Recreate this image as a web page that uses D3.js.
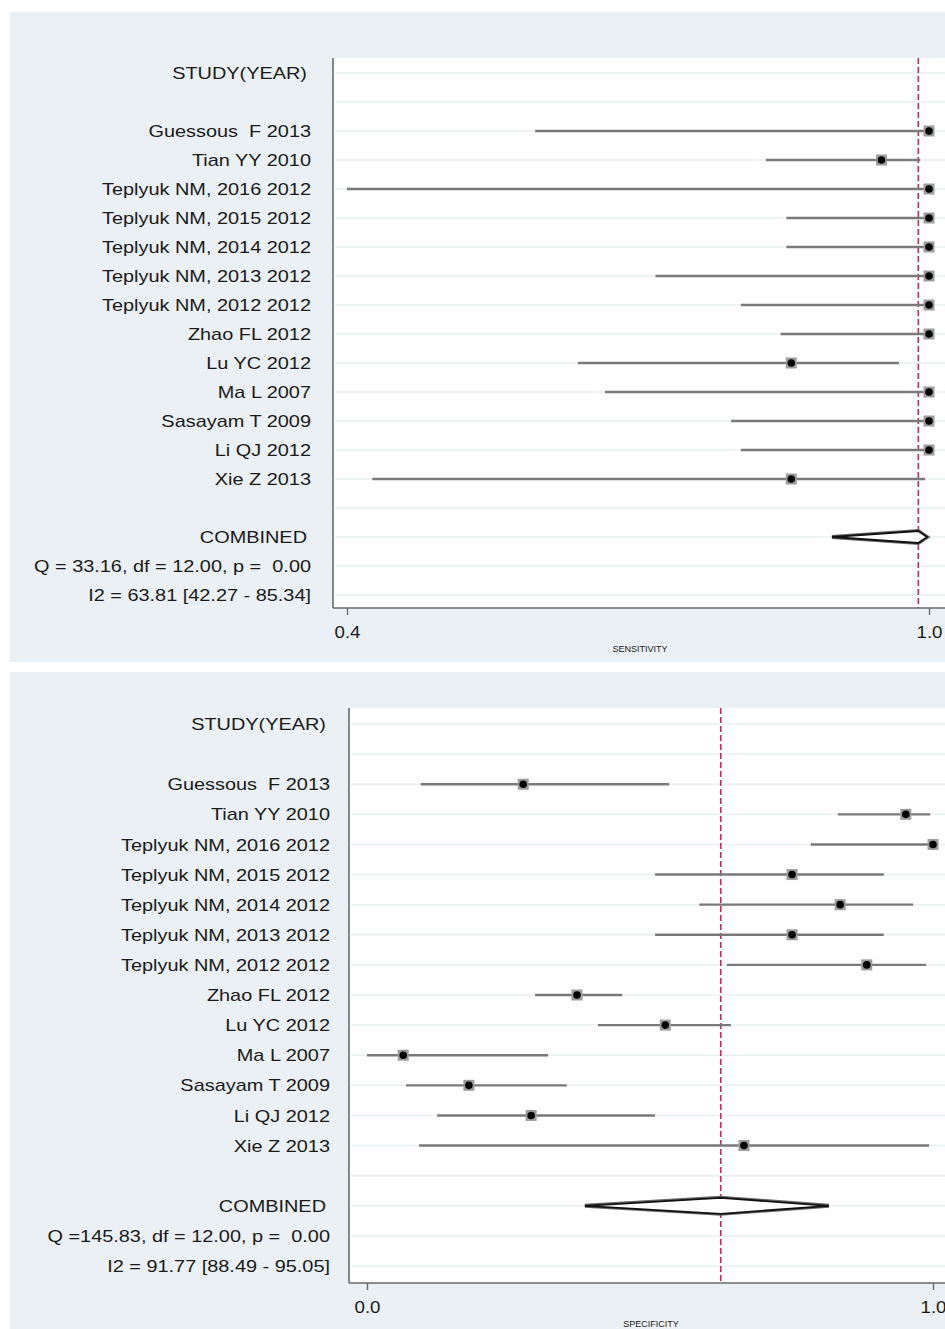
<!DOCTYPE html>
<html>
<head>
<meta charset="utf-8">
<script src="https://cdn.jsdelivr.net/npm/d3@7"></script>
<style>
body{margin:0;background:#fff;}
text{font-family:"Liberation Sans",Arial,sans-serif;fill:#1a1a1a;white-space:pre;}
</style>
</head>
<body>
<svg id="chart" width="945" height="1329"></svg>
<script>
// studies, same order in both panels
var studies = ["Guessous  F 2013","Tian YY 2010","Teplyuk NM, 2016 2012","Teplyuk NM, 2015 2012",
    "Teplyuk NM, 2014 2012","Teplyuk NM, 2013 2012","Teplyuk NM, 2012 2012","Zhao FL 2012",
    "Lu YC 2012","Ma L 2007","Sasayam T 2009","Li QJ 2012","Xie Z 2013"];

var sensEst = [1.0,0.951,1.0,1.0,1.0,1.0,1.0,1.0,0.858,1.0,1.0,1.0,0.858];
var sensLo  = [0.594,0.832,0.40,0.853,0.853,0.718,0.806,0.847,0.638,0.666,0.796,0.806,0.426];
var sensHi  = [1.0,0.991,1.0,1.0,1.0,1.0,1.0,1.0,0.969,1.0,1.0,1.0,0.996];
var sensPooled = [0.900,0.989,0.998];   // lower, estimate, upper
var sensStats = ["Q = 33.16, df = 12.00, p =  0.00","I2 = 63.81 [42.27 - 85.34]"];
var sensTicks = [0.4,1.0];

var specEst = [0.276,0.952,1.0,0.751,0.836,0.751,0.883,0.371,0.527,0.064,0.180,0.290,0.666];
var specLo  = [0.095,0.832,0.784,0.509,0.587,0.509,0.636,0.297,0.408,0.0,0.069,0.124,0.092];
var specHi  = [0.534,0.995,1.0,0.913,0.965,0.913,0.988,0.451,0.643,0.320,0.353,0.509,0.993];
var specPooled = [0.385,0.625,0.816];
var specStats = ["Q =145.83, df = 12.00, p =  0.00","I2 = 91.77 [88.49 - 95.05]"];
var specTicks = [0.0,1.0];

var svg = d3.select("#chart");
var stretch = 1.17;   // text in the picture is wider than plain Arial

function panel(opt){
    var g = svg.append("g");

    // grey background and white plot area
    g.append("rect").attr("x",10).attr("y",opt.top).attr("width",935).attr("height",opt.h).attr("fill","#eaf0f3");
    g.append("rect").attr("x",opt.left).attr("y",opt.plotTop).attr("width",945-opt.left)
        .attr("height",opt.plotBottom-opt.plotTop).attr("fill","#fff");

    var x = d3.scaleLinear().domain(opt.domain).range(opt.xrange);
    var y = d3.scaleLinear().domain([0,18]).range(opt.yrange);
    var rows = d3.range(19);

    g.selectAll(".grid").data(rows).enter().append("line")
        .attr("x1",opt.left+2).attr("x2",945)
        .attr("y1",d => y(d)).attr("y2",d => y(d))
        .attr("stroke","#e9eff1").attr("stroke-width",1.5);

    // pooled reference line
    g.append("line")
        .attr("x1",x(opt.pooled[1])).attr("x2",x(opt.pooled[1]))
        .attr("y1",opt.plotTop).attr("y2",opt.plotBottom)
        .attr("stroke","#c32a55").attr("stroke-width",1.6).attr("stroke-dasharray","6,3");

    var data = opt.est.map((d,i) => ({name:studies[i],est:d,lo:opt.lo[i],hi:opt.hi[i],row:i+2}));

    g.selectAll(".ci").data(data).enter().append("line")
        .attr("x1",d => x(d.lo)).attr("x2",d => x(d.hi))
        .attr("y1",d => y(d.row)).attr("y2",d => y(d.row))
        .attr("stroke","#7a7a7a").attr("stroke-width",2.4);

    g.selectAll(".box").data(data).enter().append("rect")
        .attr("x",d => x(d.est)-5.5).attr("y",d => y(d.row)-5.5)
        .attr("width",11).attr("height",11).attr("fill","#9c9c9c");
    g.selectAll(".dot").data(data).enter().append("circle")
        .attr("cx",d => x(d.est)).attr("cy",d => y(d.row)).attr("r",3.8).attr("fill","#000");

    // combined diamond
    var cy = y(16), p = opt.pooled;
    var pts = [[x(p[0]),cy],[x(p[1]),cy-opt.dh],[x(p[2]),cy],[x(p[1]),cy+opt.dh]];
    g.append("path").attr("d","M"+pts.join("L")+"Z")
        .attr("fill","#fff").attr("stroke","#666").attr("stroke-width",4);
    g.append("path").attr("d","M"+pts.join("L")+"Z")
        .attr("fill","#fff").attr("stroke","#111").attr("stroke-width",1.8);

    // labels
    var labels = [{t:"STUDY(YEAR)",r:0,dx:-4}].concat(
        data.map(d => ({t:d.name,r:d.row,dx:0})),
        [{t:"COMBINED",r:16,dx:-4},{t:opt.stats[0],r:17,dx:0},{t:opt.stats[1],r:18,dx:0}]);
    g.selectAll(".lab").data(labels).enter().append("text")
        .attr("transform",d => "translate("+(opt.labelX+d.dx)+","+y(d.r)+") scale("+stretch+",1)")
        .attr("dy","0.36em")
        .attr("text-anchor","end").style("font-size","17px").text(d => d.t);

    // axes
    g.append("line").attr("x1",opt.left).attr("x2",opt.left).attr("y1",opt.plotTop).attr("y2",opt.plotBottom)
        .attr("stroke","#6a6a6a").attr("stroke-width",1.6);
    var xAxis = d3.axisBottom(x).tickValues(opt.ticks).tickFormat(d3.format(".1f")).tickSize(7).tickSizeOuter(0);
    var ax = g.append("g").attr("transform","translate(0,"+opt.plotBottom+")").call(xAxis);
    ax.select(".domain").remove();
    ax.selectAll(".tick line").attr("stroke","#6a6a6a").attr("stroke-width",1.4);
    ax.selectAll(".tick text").style("font-size","16px").style("font-family","Liberation Sans, Arial, sans-serif")
        .attr("fill","#1a1a1a").attr("y",0).attr("dy",0)
        .attr("transform","translate(0,30) scale("+stretch+",1)");
    g.append("line").attr("x1",opt.left).attr("x2",945).attr("y1",opt.plotBottom).attr("y2",opt.plotBottom)
        .attr("stroke","#6a6a6a").attr("stroke-width",1.6);

    g.append("text").attr("x",opt.titleX).attr("y",opt.plotBottom+44)
        .attr("text-anchor","middle").style("font-size","9px").attr("fill","#333").text(opt.title);
}

panel({top:12,h:650,left:333,plotTop:58,plotBottom:608,domain:[0.4,1.0],xrange:[347,929],yrange:[73,595],
    est:sensEst,lo:sensLo,hi:sensHi,pooled:sensPooled,stats:sensStats,ticks:sensTicks,
    labelX:311,dh:6,title:"SENSITIVITY",titleX:640});

panel({top:672,h:657,left:349,plotTop:708,plotBottom:1283,domain:[0,1],xrange:[367,933],yrange:[724,1266],
    est:specEst,lo:specLo,hi:specHi,pooled:specPooled,stats:specStats,ticks:specTicks,
    labelX:330,dh:8,title:"SPECIFICITY",titleX:651});
</script>
</body>
</html>
